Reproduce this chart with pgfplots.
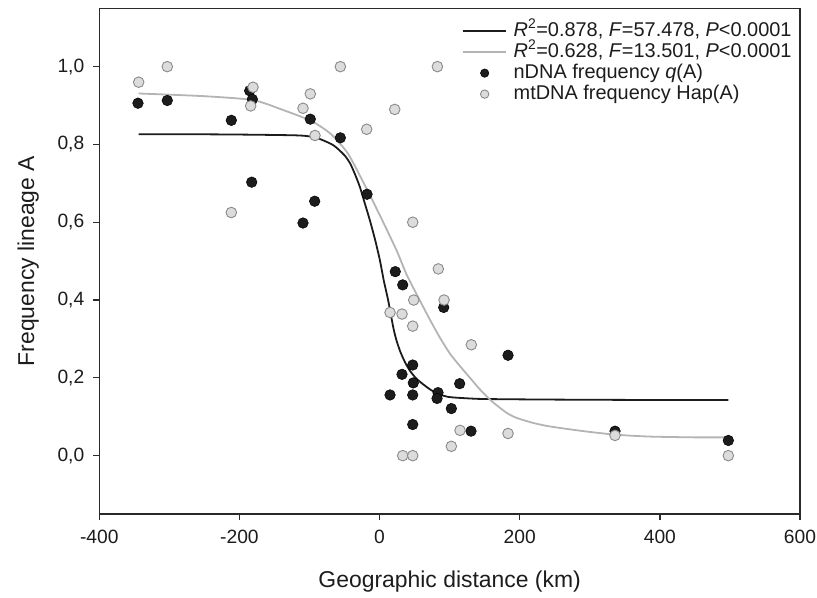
\documentclass[border=0pt]{standalone}
\usepackage{pgfplots}
\pgfplotsset{compat=1.18}
\usepackage{pgfplotstable}
\usepackage{fontspec}
\setmainfont{Liberation Sans}
\definecolor{darkpt}{HTML}{1C1C1C}
\definecolor{lightpt}{HTML}{DCDCDC}
\definecolor{lightedge}{HTML}{8A8A8A}
\definecolor{greyline}{HTML}{B4B4B4}
\definecolor{axisgray}{HTML}{2A2A2A}
\pgfplotsset{
  lineleg/.style={legend image code/.code={\path[draw=none,fill=none] (0bp,0bp) -- (50bp,0bp);\draw[##1] (0bp,0bp) -- (43bp,0bp);}},
  markleg/.style={legend image code/.code={\path[draw=none,fill=none] (0bp,0bp) -- (50bp,0bp);\draw[##1, mark size=4.2bp] plot coordinates {(22bp,0bp)};}},
}

\pgfplotstableread{
x y
-344.8 0.906
-303.0 0.913
-211.6 0.862
-185.4 0.938
-181.6 0.916
-182.5 0.703
-98.9 0.865
-92.6 0.654
-109.3 0.598
-56.0 0.817
-17.9 0.672
22.4 0.473
33.0 0.439
91.5 0.381
47.3 0.233
32.0 0.209
48.1 0.187
14.9 0.156
47.3 0.156
83.4 0.162
82.0 0.147
114.3 0.185
102.4 0.121
47.3 0.080
130.5 0.063
183.3 0.258
336.0 0.063
497.7 0.039
}\ndna

\pgfplotstableread{
x y
-343.8 0.960
-303.0 1.000
-180.6 0.947
-184.0 0.899
-98.9 0.930
-109.3 0.893
-56.0 1.000
-92.2 0.823
-18.4 0.839
21.6 0.890
-211.6 0.625
82.5 1.000
47.3 0.600
83.8 0.480
48.7 0.400
92.0 0.400
14.9 0.368
32.0 0.364
47.3 0.333
130.9 0.285
114.8 0.065
183.3 0.057
102.4 0.024
33.0 0.000
47.3 0.000
336.0 0.052
497.7 0.000
}\mtdna

\pgfplotstableread{
x y
-344 0.826
-250 0.826
-180 0.825
-113.6 0.823
-90 0.817
-66 0.798
-50 0.772
-42 0.751
-35 0.723
-28 0.690
-21 0.648
-13.7 0.604
-6 0.552
0.6 0.501
6 0.450
12.4 0.398
19.6 0.329
24 0.297
29.2 0.269
36 0.241
43.4 0.218
52 0.199
62.4 0.183
74 0.168
86.2 0.157
98 0.151
110 0.149
140 0.146
180 0.145
257.5 0.144
400 0.143
497.7 0.143
}\blackfit

\pgfplotstableread{
x y
-344 0.931
-250 0.924
-180.6 0.914
-140 0.890
-97 0.860
-69 0.826
-45 0.776
-21 0.695
2.5 0.610
24.4 0.527
38.7 0.465
57.7 0.398
72 0.349
86.2 0.303
100.5 0.262
114.8 0.230
130 0.198
143.3 0.170
160 0.140
181.4 0.110
195.7 0.097
219.4 0.084
243.2 0.075
290.8 0.063
336 0.054
386 0.049
450 0.047
497.7 0.047
}\greyfit

\begin{document}
\begin{tikzpicture}[x=1bp,y=1bp]
\path[use as bounding box] (0,0) rectangle (817,598);
\begin{axis}[
  at={(99.3bp,84bp)}, anchor=south west,
  scale only axis, width=700.7bp, height=505.7bp,
  xmin=-400, xmax=600, ymin=-0.15, ymax=1.15,
  xtick={-400,-200,0,200,400,600},
  xticklabels={-400,-200,0,200,400,600},
  ytick={0,0.2,0.4,0.6,0.8,1},
  yticklabels={{0,0},{0,2},{0,4},{0,6},{0,8},{1,0}},
  tick pos=left, tick align=outside,
  major tick length=6bp,
  axis line style={line width=1.3bp, color=axisgray},
  every tick/.style={line width=1.3bp, color=axisgray},
  ticklabel style={font=\fontsize{19.3}{22}\selectfont, color=darkpt},
  xticklabel style={yshift=-7bp},
  yticklabel style={xshift=-5.5bp},
  xlabel={Geographic distance (km)},
  ylabel={Frequency lineage A},
  label style={font=\fontsize{23}{26}\selectfont, color=darkpt},
  xlabel style={at={(axis description cs:0.5,0)}, anchor=base, yshift=-74bp},
  ylabel style={at={(axis description cs:-0.1013,0.5)}, anchor=center},
  legend style={draw=none, fill=none, at={(axis description cs:0.517,0.976)},
    anchor=north west, font=\fontsize{20}{22}\selectfont, inner sep=0pt,
    row sep=0pt, text=darkpt,
    nodes={inner sep=1bp, text height=14.5bp, text depth=4.5bp},
    /tikz/every even column/.append style={column sep=0bp}},
  legend cell align=left,
  clip=false,
]
\addplot[color=darkpt, line width=1.8bp, smooth, tension=0.4, lineleg]
  table[x=x,y=y] {\blackfit};
\addlegendentry{\textit{R}\textsuperscript{2}=0.878, \textit{F}=57.478, \textit{P}<0.0001}
\addplot[color=greyline, line width=1.8bp, smooth, tension=0.4, lineleg]
  table[x=x,y=y] {\greyfit};
\addlegendentry{\textit{R}\textsuperscript{2}=0.628, \textit{F}=13.501, \textit{P}<0.0001}
\addplot[only marks, mark=*, mark size=5.3bp, draw=black, fill=darkpt, line width=0.5bp, markleg]
  table[x=x,y=y] {\ndna};
\addlegendentry{nDNA frequency \textit{q}(A)}
\addplot[only marks, mark=*, mark size=5.3bp, draw=lightedge, fill=lightpt, line width=0.9bp, markleg]
  table[x=x,y=y] {\mtdna};
\addlegendentry{mtDNA frequency Hap(A)}
\end{axis}
\end{tikzpicture}
\end{document}
